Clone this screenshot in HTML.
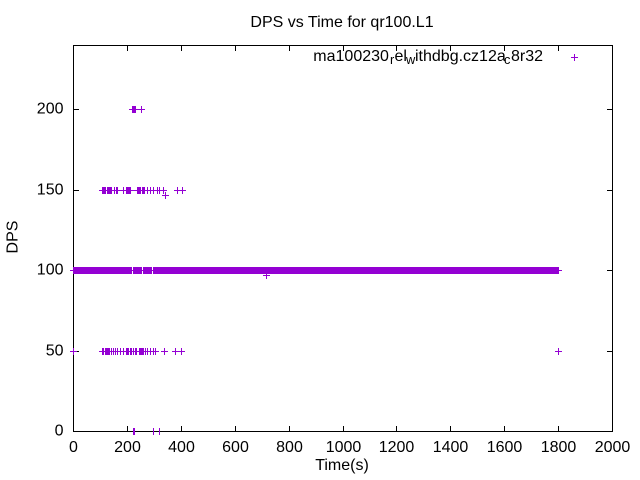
<!DOCTYPE html>
<html><head><meta charset="utf-8"><style>
html,body{margin:0;padding:0;background:#fff;}
svg{display:block;}
text{font-family:"Liberation Sans",Arial,sans-serif;fill:#000;}
</style></head><body>
<svg width="640" height="480" viewBox="0 0 640 480" xmlns="http://www.w3.org/2000/svg">
<rect width="640" height="480" fill="#fff"/>
<!-- frame -->
<g shape-rendering="crispEdges" stroke="#000" stroke-width="1" fill="none">
<rect x="73.5" y="45.5" width="539" height="386"/>
<path d="M127.5 431V426M181.5 431V426M235.5 431V426M289.5 431V426M343.5 431V426M396.5 431V426M450.5 431V426M504.5 431V426M558.5 431V426
M127.5 46V51M181.5 46V51M235.5 46V51M289.5 46V51M343.5 46V51M396.5 46V51M450.5 46V51M504.5 46V51M558.5 46V51
M74 351.5H79M74 270.5H79M74 190.5H79M74 109.5H79
M612 351.5H607M612 270.5H607M612 190.5H607M612 109.5H607"/>
</g>
<!-- tick labels -->
<g font-size="16" text-anchor="middle">
<text x="73.5" y="452">0</text>
<text x="127.5" y="452">200</text>
<text x="181.5" y="452">400</text>
<text x="235.5" y="452">600</text>
<text x="289.5" y="452">800</text>
<text x="343.5" y="452">1000</text>
<text x="396.5" y="452">1200</text>
<text x="450.5" y="452">1400</text>
<text x="504.5" y="452">1600</text>
<text x="558.5" y="452">1800</text>
<text x="612.5" y="452">2000</text>
</g>
<g font-size="16" text-anchor="end">
<text x="63.5" y="435.5">0</text>
<text x="63.5" y="355.5">50</text>
<text x="63.5" y="274.5">100</text>
<text x="63.5" y="194.5">150</text>
<text x="63.5" y="113.5">200</text>
</g>
<text x="342" y="27" font-size="16" text-anchor="middle">DPS vs Time for qr100.L1</text>
<text x="342" y="470" font-size="16" text-anchor="middle">Time(s)</text>
<text transform="translate(17.5,237) rotate(-90)" font-size="16" text-anchor="middle">DPS</text>
<!-- legend -->
<text x="313.3" y="61" font-size="16">ma100230</text>
<text x="390" y="64" font-size="12.8">r</text>
<text x="394.5" y="61" font-size="16">el</text>
<text x="406" y="64" font-size="12.8">w</text>
<text x="415" y="61" font-size="16">ithdbg.cz12a</text>
<text x="504" y="64" font-size="12.8">c</text>
<text x="511" y="61" font-size="16">8r32</text>
<!-- data -->
<g shape-rendering="crispEdges">
<rect x="73" y="267" width="486" height="7" fill="#9400d3"/>
<rect x="132" y="267" width="1" height="3" fill="#fff"/>
<rect x="132" y="271" width="1" height="3" fill="#fff"/>
<rect x="142" y="267" width="1" height="3" fill="#fff"/>
<rect x="142" y="271" width="1" height="3" fill="#fff"/>
<rect x="152" y="267" width="1" height="3" fill="#fff"/>
<rect x="152" y="271" width="1" height="3" fill="#fff"/>
</g>
<g shape-rendering="crispEdges" stroke="#9400d3" stroke-width="1" fill="none">
<!-- row 100 center line -->
<path d="M70 270.5H562"/>
<!-- legend key -->
<path d="M571 57.5H578M574.5 54v7"/>
<!-- row 200 -->
<path d="M129 109.5H145M132.5 106v7M133.5 106v7M134.5 106v7M135.5 106v7M141.5 106v7"/>
<!-- row 150 -->
<path d="M99 190.5H167M174 190.5H186
M102.5 187v7M103.5 187v7M104.5 187v7M105.5 187v7M107.5 187v7M108.5 187v7M109.5 187v7M110.5 187v7
M111.5 187v7M114.5 187v7M116.5 187v7M117.5 187v7M123.5 187v7M126.5 187v7M127.5 187v7M128.5 187v7
M129.5 187v7M130.5 187v7M137.5 187v7M138.5 187v7M139.5 187v7M140.5 187v7M142.5 187v7M143.5 187v7
M144.5 187v7M147.5 187v7M150.5 187v7M153.5 187v7M157.5 187v7M159.5 187v7M163.5 187v7
M177.5 187v7M182.5 187v7"/>
<!-- row 147 -->
<path d="M162 195.5H169M165.5 192v7"/>
<!-- row 97 -->
<path d="M263 275.5H270M266.5 272v7"/>
<!-- row 50 -->
<path d="M70 351.5H77M99 351.5H159M161 351.5H168M172 351.5H185M555 351.5H562
M73.5 348v7M558.5 348v7
M102.5 348v7M103.5 348v7M105.5 348v7M106.5 348v7M107.5 348v7M108.5 348v7M109.5 348v7M111.5 348v7
M113.5 348v7M115.5 348v7M117.5 348v7M120.5 348v7M123.5 348v7M126.5 348v7M127.5 348v7M128.5 348v7
M130.5 348v7M131.5 348v7M133.5 348v7M135.5 348v7M136.5 348v7M139.5 348v7M140.5 348v7M141.5 348v7
M142.5 348v7M143.5 348v7M145.5 348v7M147.5 348v7M150.5 348v7M153.5 348v7M155.5 348v7
M164.5 348v7M175.5 348v7M181.5 348v7"/>
<!-- row 0 -->
<path d="M133.5 428v7M134.5 428v7M153.5 428v7M159.5 428v7"/>
</g>
</svg>
</body></html>
